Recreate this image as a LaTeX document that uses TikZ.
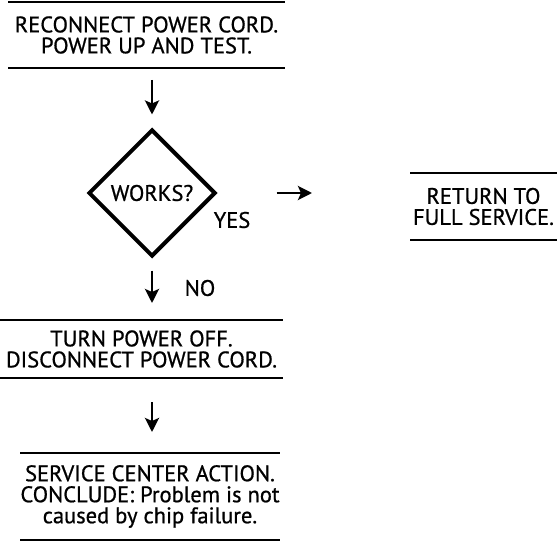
\documentclass[tikz,border=0pt]{standalone}
\usepackage{fontspec}
\setmainfont{PT Sans}[FakeBold=0.8]
\usetikzlibrary{shapes.geometric,arrows.meta,positioning,calc}
\newcommand{\flowfont}{\fontsize{22.5}{21}\selectfont}

\begin{document}
\begin{tikzpicture}[x=1pt, y=-1pt,
    stepbox/.style={rectangle, inner sep=0pt, outer sep=0pt, align=center,
                    font=\flowfont},
    decision/.style={diamond, draw, line width=4pt, aspect=1,
                     minimum size=127pt, inner sep=0pt, font=\flowfont},
    rule/.style={line width=2pt},
    arrow/.style={-{Stealth[length=14pt, width=14pt, inset=3pt]}, line width=2.8pt}
]
\useasboundingbox (0,0) rectangle (559,545);

\node[stepbox, minimum width=277pt, minimum height=66pt] (reconnect) at (146.5,35)
    {RECONNECT POWER CORD.\\POWER UP AND TEST.};
\node[decision] (works) at (152,193) {WORKS?};
\node[stepbox, minimum width=147pt, minimum height=67pt] (full) at (483.5,206.5)
    {RETURN TO\\FULL SERVICE.};
\node[stepbox, minimum width=283pt, minimum height=58pt] (poweroff) at (141.5,349)
    {TURN POWER OFF.\\DISCONNECT POWER CORD.};
\node[stepbox, minimum width=260pt, minimum height=87pt] (service) at (150,496.5)
    {SERVICE CENTER ACTION.\\CONCLUDE: Problem is not\\caused by chip failure.};

\node[font=\flowfont] (yes) at (232,220) {YES};
\node[font=\flowfont] (no)  at (200,288) {NO};

% rules above and below each step
\foreach \b in {reconnect, full, poweroff, service}
  \draw[rule] (\b.north west) -- (\b.north east)
              (\b.south west) -- (\b.south east);

\draw[arrow, shorten <=12pt, shorten >=13pt] (works.north |- reconnect.south) -- (works.north);
\draw[arrow, shorten <=12pt, shorten >=17pt] (works.south) -- (works.south |- poweroff.north);
\draw[arrow, shorten <=24pt, shorten >=21pt] (works.south |- poweroff.south) -- (works.south |- service.north);
\draw[arrow, shorten <=59pt, shorten >=98pt] (works.east) -- (works.east -| full.west);
\end{tikzpicture}
\end{document}
